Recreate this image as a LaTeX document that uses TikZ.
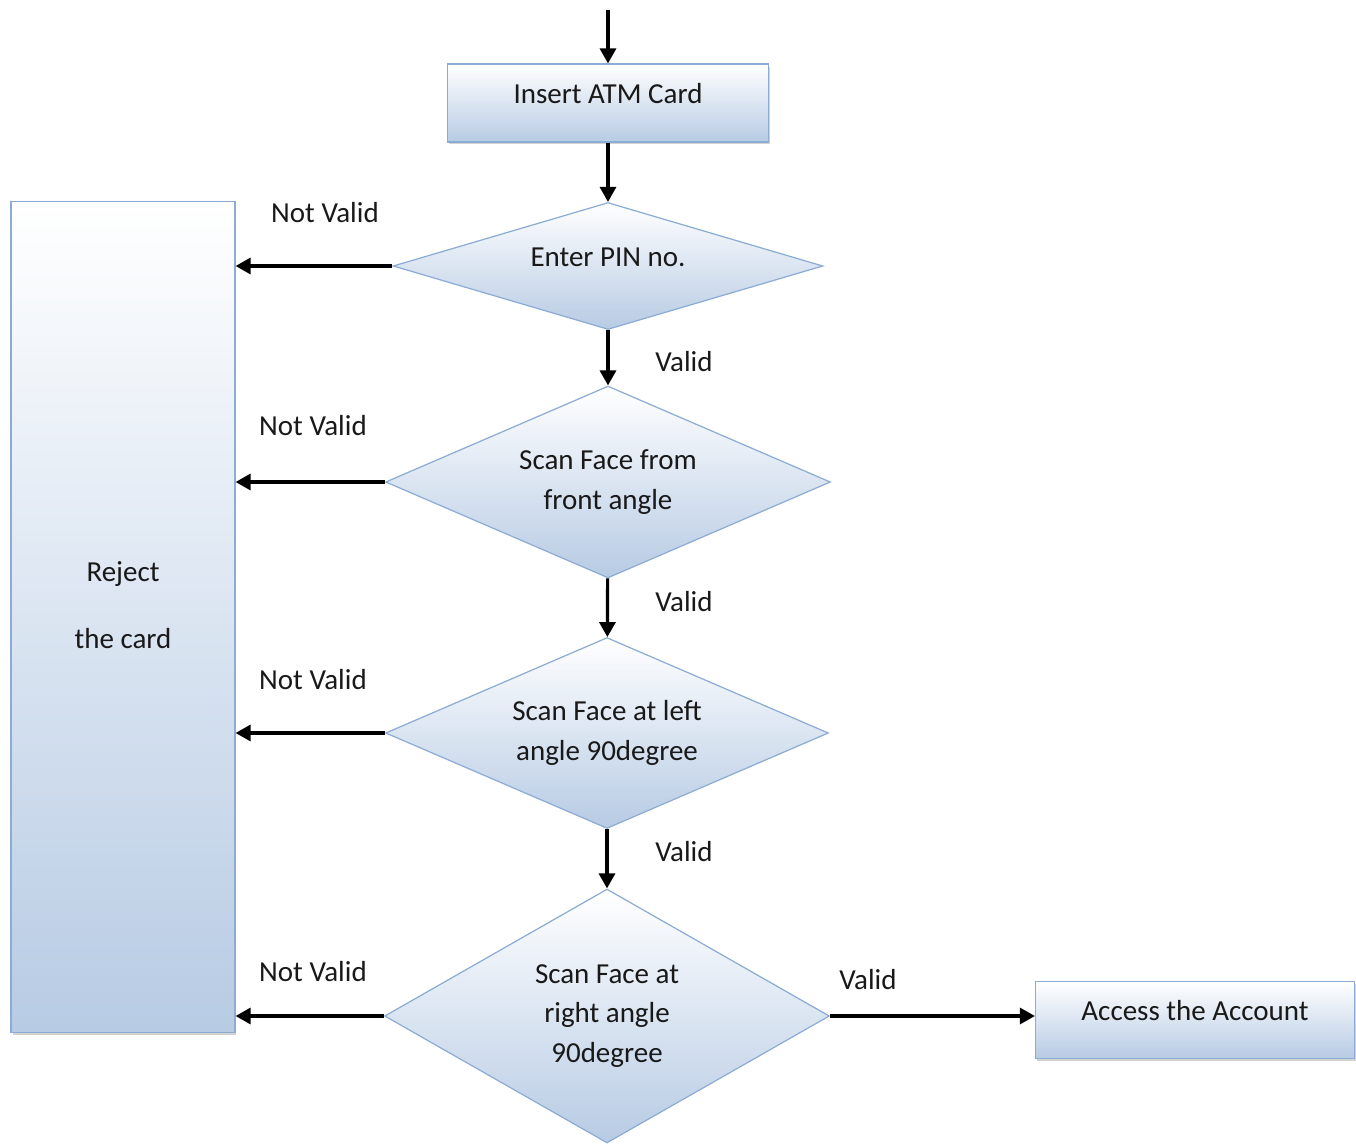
\documentclass[tikz,border=0pt]{standalone}
\usepackage{fontspec}
\setmainfont{Carlito}
\usepackage{xcolor}
\usepackage{tikz}
\usetikzlibrary{shapes,shadows,arrows,calc}
\usetikzlibrary{arrows.meta}
\definecolor{boxBorder}{RGB}{141,172,212}
\definecolor{boxFill}{RGB}{183,203,228}
\tikzstyle{tsText} = [ 
    text=black!90, 
    font=\fontsize{16.5}{22.7}\selectfont
]
\tikzstyle{tsBox} = [ 
    rectangle,
    tsText,
    draw=boxBorder,
    line width=0.7pt,
    top color=white,
    bottom color=boxFill,
    drop shadow={shadow xshift=0.03cm, shadow yshift=-0.05cm, opacity=0.35}]
\tikzstyle{tsDecision} = [ 
    diamond,
    tsText,
    align=center,
    inner sep=0pt,
    draw=boxBorder,
    line width=0.7pt,
    top color=white,
    bottom color=boxFill]
\tikzstyle{tsArrow} = [ 
    draw=black,
    line width=1.8pt,
    -{Triangle[length=0.3cm, width=0.32cm]}]
\tikzstyle{tsRaised} = [ 
    text height=0.37cm,
    text depth=0.37cm]

\begin{document}
\begin{tikzpicture}[x=0.02cm, y=-0.02cm]

        \useasboundingbox (0,0) rectangle (1356,1143);

        \coordinate (start) at (608,10);

        \node[  tsBox, tsRaised,
                minimum width=6.42cm,
                minimum height=1.56cm] (insert) at (608,103) {Insert ATM Card};

        \node[  tsDecision, tsRaised,
                aspect=3.4,
                minimum width=8.6cm,
                minimum height=2.54cm] (pin) at (608,266) {Enter PIN no.};

        \node[  tsDecision,
                aspect=2.3,
                minimum width=8.9cm,
                minimum height=3.84cm] (front) at (608,482) {Scan Face from\\front angle};

        \node[  tsDecision,
                aspect=2.3,
                minimum width=8.86cm,
                minimum height=3.82cm] (left) at (607,733) {Scan Face at left\\angle 90degree};

        \node[  tsDecision,
                aspect=1.75,
                minimum width=8.9cm,
                minimum height=5.08cm] (right) at (607,1016) {Scan Face at\\right angle\\90degree};

        \node[  tsBox,
                align=center,
                text depth=0.48cm,
                minimum width=4.48cm,
                minimum height=16.62cm] (reject) at (123,617) {Reject\\[0.56cm]the card};

        \node[  tsBox, tsRaised,
                minimum width=6.38cm,
                minimum height=1.54cm] (access) at (1195,1020) {Access the Account};

        % arrows
        \draw[tsArrow] (start) -- (insert);
        \draw[tsArrow] (insert) -- (pin);
        \draw[tsArrow] (pin) -- (front);
        \draw[tsArrow] (front) -- (left);
        \draw[tsArrow] (left) -- (right);
        \draw[tsArrow] (right.east) -- (access.west |- right.east);

        \draw[tsArrow] (pin.west) -- (pin.west -| reject.east);
        \draw[tsArrow] (front.west) -- (front.west -| reject.east);
        \draw[tsArrow] (left.west) -- (left.west -| reject.east);
        \draw[tsArrow] (right.west) -- (right.west -| reject.east);

        % labels
        \node[tsText] (valid1) at (684,362) {Valid};
        \node[tsText] (valid2) at (684,602) {Valid};
        \node[tsText] (valid3) at (684,852) {Valid};
        \node[tsText] (valid4) at (868,980) {Valid};

        \node[tsText] (notvalid1) at (325,213) {Not Valid};
        \node[tsText] (notvalid2) at (313,426) {Not Valid};
        \node[tsText] (notvalid3) at (313,680) {Not Valid};
        \node[tsText] (notvalid4) at (313,972) {Not Valid};

\end{tikzpicture}
\end{document}
